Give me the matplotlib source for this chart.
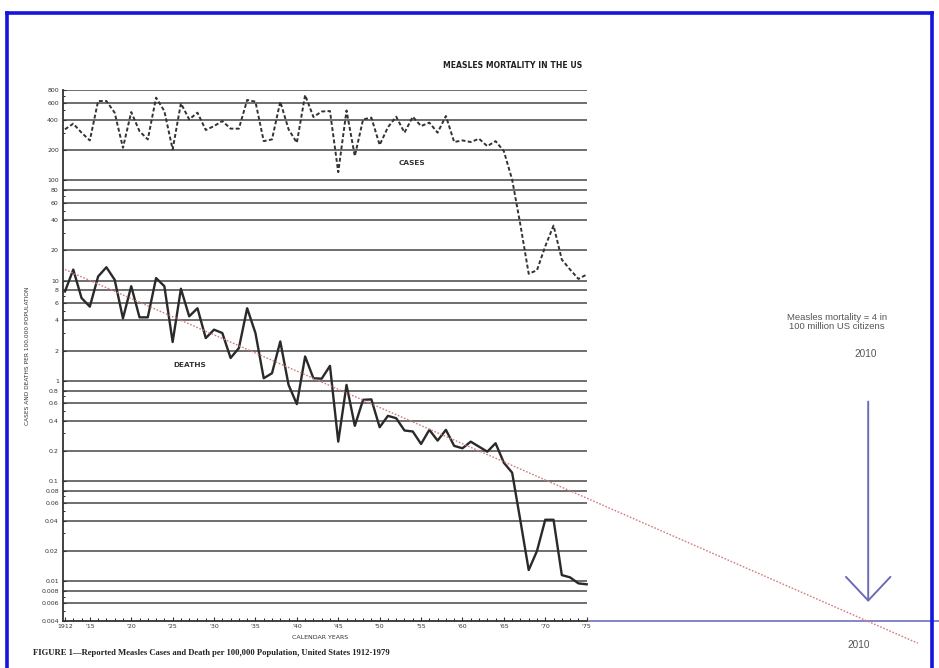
import matplotlib.pyplot as plt
from matplotlib.lines import Line2D
from matplotlib.ticker import FixedLocator, FixedFormatter, NullFormatter

# Reported measles cases and deaths per 100,000 population, US 1912-1975
years = list(range(1912, 1976))
cases = [324, 369, 300, 251, 621, 621, 475, 212, 482, 310,
         257, 671, 493, 204, 589, 407, 475, 319, 349, 392,
         329, 329, 636, 612, 247, 257, 612, 324, 238, 713,
         430, 488, 493, 121, 500, 175, 407, 424, 226, 340,
         433, 300, 433, 349, 378, 300, 440, 242, 251, 242,
         261, 220, 247, 196, 102, 36, 11.7, 12.7, 22, 35.5,
         16.2, 12.9, 10.4, 11.5]
deaths = [7.8, 12.9, 6.7, 5.5, 11.0, 13.6, 10.2, 4.2, 8.8, 4.3,
          4.3, 10.6, 8.8, 2.44, 8.3, 4.4, 5.3, 2.67, 3.24, 3.0,
          1.69, 2.12, 5.3, 3.0, 1.06, 1.19, 2.47, 0.91, 0.585, 1.75,
          1.06, 1.05, 1.41, 0.247, 0.91, 0.355, 0.646, 0.652, 0.344, 0.447,
          0.423, 0.319, 0.312, 0.234, 0.324, 0.253, 0.324, 0.224, 0.212, 0.247,
          0.22, 0.196, 0.238, 0.152, 0.121, 0.04, 0.0129, 0.02, 0.041, 0.041,
          0.0115, 0.0109, 0.0095, 0.0093]

grid_values = [800, 600, 400, 200, 100, 80, 60, 40, 20, 10, 8, 6, 4, 2, 1,
               0.8, 0.6, 0.4, 0.2, 0.1, 0.08, 0.06, 0.04, 0.02, 0.01, 0.008, 0.006]
ytick_values = grid_values + [0.004]
ytick_labels = ['800', '600', '400', '200', '100', '80', '60', '40', '20', '10',
                '8', '6', '4', '2', '1', '0.8', '0.6', '0.4', '0.2', '0.1',
                '0.08', '0.06', '0.04', '0.02', '0.01', '0.008', '0.006', '0.004']
xtick_years = [1912, 1915, 1920, 1925, 1930, 1935, 1940, 1945, 1950, 1955,
               1960, 1965, 1970, 1975]
xtick_labels = ['1912', "'15", "'20", "'25", "'30", "'35", "'40", "'45", "'50",
                "'55", "'60", "'65", "'70", "'75"]

# hand-drawn extrapolation added on the slide
trend_years = [1912, 2015]
trend_values = [12.9, 0.0024]
target_value = 0.004      # 4 in 100 million = 0.004 per 100,000
target_year = 2009        # where the slide's "2010" arrow sits on this scale

x_left, x_main_end, x_right = 1911.76, 1975.05, 2017.55

fig = plt.figure(figsize=(9.39, 6.68), dpi=100)
ax = fig.add_axes([63 / 939, 1 - 621 / 668, 876 / 939, 531 / 668])
ax.set_yscale('log')
ax.set_ylim(0.004, 800)
ax.set_xlim(x_left, x_right)

ax.spines['top'].set_visible(False)
ax.spines['right'].set_visible(False)
ax.spines['bottom'].set_bounds(x_left, x_main_end)
ax.spines['bottom'].set_linewidth(1.3)
ax.spines['bottom'].set_color('#333333')
ax.spines['left'].set_linewidth(1.3)
ax.spines['left'].set_color('#333333')

ax.hlines(grid_values, x_left, x_main_end, colors='#555555', lw=1.2, zorder=1)

ax.plot(years, cases, color='#333333', lw=1.4, ls=(0, (2.0, 1.2)), zorder=3)
ax.plot(years, deaths, color='#2a2a2a', lw=1.7, zorder=3)
ax.plot(trend_years, trend_values, color='#d47a80', lw=1.0, ls=(0, (1.2, 1.2)),
        clip_on=False, zorder=4)

# y axis
ax.yaxis.set_major_locator(FixedLocator(ytick_values))
ax.yaxis.set_major_formatter(FixedFormatter(ytick_labels))
ax.yaxis.set_minor_locator(FixedLocator([700, 500, 300, 70, 50, 30, 7, 5, 3,
                                         0.7, 0.5, 0.3, 0.07, 0.05, 0.03,
                                         0.007, 0.005]))
ax.yaxis.set_minor_formatter(NullFormatter())
ax.tick_params(axis='y', which='major', direction='in', length=2, width=0.8,
               pad=3, labelsize=4.5, labelcolor='#333333', color='#333333')
ax.tick_params(axis='y', which='minor', direction='in', length=1.5, width=0.6)

# x axis
ax.xaxis.set_major_locator(FixedLocator(xtick_years))
ax.xaxis.set_major_formatter(FixedFormatter(xtick_labels))
ax.xaxis.set_minor_locator(FixedLocator(years))
ax.tick_params(axis='x', which='major', direction='in', length=3, width=0.8,
               pad=2, labelsize=4.5, labelcolor='#333333', color='#333333')
ax.tick_params(axis='x', which='minor', direction='in', length=2, width=0.6)

ax.set_ylabel('CASES AND DEATHS PER 100,000 POPULATION', fontsize=4.2,
              color='#333333')
ax.yaxis.set_label_coords(-0.0377, 0.5)
ax.text(0.293, -0.032, 'CALENDAR YEARS', transform=ax.transAxes, fontsize=4.5,
        ha='center', va='center', color='#333333')

ax.text(1953.9, 151, 'CASES', fontsize=5.3, ha='center', va='center',
        color='#333333', weight='semibold')
ax.text(1927.1, 1.45, 'DEATHS', fontsize=5.3, ha='center', va='center',
        color='#333333', weight='semibold')

# slide annotations
ax.hlines(target_value, x_main_end, x_right, colors='#7c7cc4', lw=1.3,
          clip_on=False, zorder=2)
ax.annotate('', xy=(target_year, 0.0062), xytext=(target_year, 0.62),
            arrowprops=dict(arrowstyle='->,head_length=0.85,head_width=0.8',
                            color='#6c6cb4', lw=1.4, mutation_scale=20,
                            shrinkA=0, shrinkB=0),
            annotation_clip=False)
ax.text(2005.2, 3.85, 'Measles mortality = 4 in\n100 million US citizens',
        fontsize=6.8, family='Liberation Sans', ha='center', va='center',
        color='#555555', linespacing=1.05)
ax.text(2008.7, 1.86, '2010', fontsize=7.2, family='Liberation Sans',
        ha='center', va='center', color='#555555')
ax.text(2007.8, 0.0023, '2010', fontsize=7.2, family='Liberation Sans',
        ha='center', va='center', color='#555555', clip_on=False)

fig.text(582 / 939, 1 - 65 / 668, 'MEASLES MORTALITY IN THE US', fontsize=5.6,
         weight='bold', ha='right', va='center', color='#222222')
fig.text(33 / 939, 1 - 655 / 668,
         'FIGURE 1\u2014Reported Measles Cases and Death per 100,000 Population, '
         'United States 1912-1979',
         fontsize=6.2, family='Liberation Serif', weight='bold', ha='left',
         va='baseline', color='#222222')

# blue slide frame
frame = dict(transform=fig.transFigure, color='#1414e0', lw=2.6)
fig.add_artist(Line2D([7 / 939, 7 / 939], [0, 1 - 13 / 668], **frame))
fig.add_artist(Line2D([7 / 939, 932 / 939], [1 - 13 / 668, 1 - 13 / 668], **frame))
fig.add_artist(Line2D([932 / 939, 932 / 939], [0, 1 - 13 / 668], **frame))

fig.savefig('out.png', dpi=100)
